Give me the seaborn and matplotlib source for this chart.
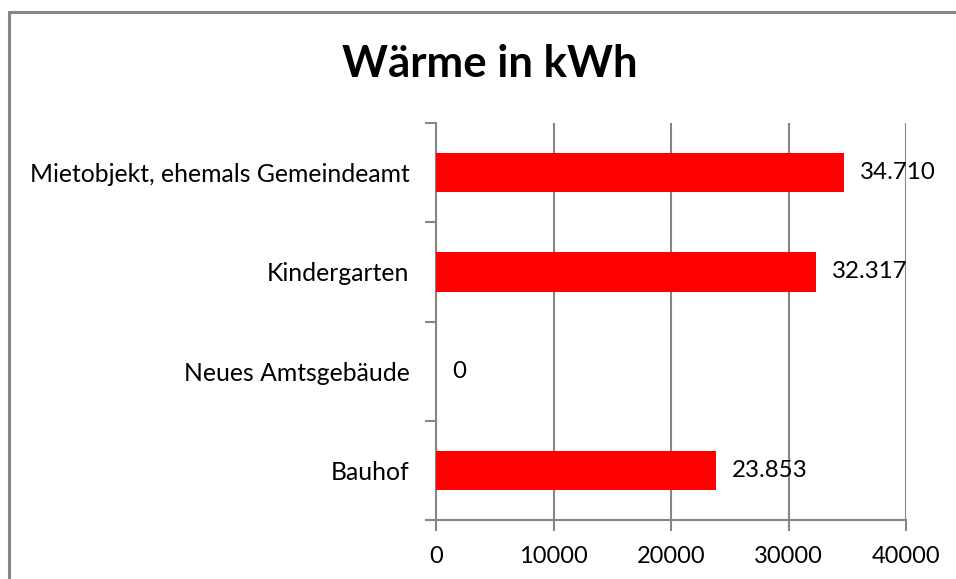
import matplotlib
matplotlib.use("Agg")
import matplotlib.pyplot as plt
from matplotlib.lines import Line2D
from matplotlib.ticker import FixedLocator
import seaborn as sns
import pandas as pd

categories = ["Mietobjekt, ehemals Gemeindeamt", "Kindergarten", "Neues Amtsgebäude", "Bauhof"]
values = [34710, 32317, 0, 23853]
value_labels = ["34.710", "32.317", "0", "23.853"]
x_ticks = [0, 10000, 20000, 30000, 40000]
title = "Wärme in kWh"

sns.set_theme(style="white")
plt.rcParams["font.family"] = ["Lato", "DejaVu Sans"]

W, H = 956, 579
fig = plt.figure(figsize=(W / 100, H / 100), dpi=100)
ax = fig.add_axes([436 / W, 1 - 520 / H, (906 - 436) / W, (520 - 123) / H])

df = pd.DataFrame({"cat": categories, "val": values})
sns.barplot(data=df, x="val", y="cat", orient="h", color="#FF0000",
            saturation=1, width=0.4, ax=ax, zorder=2, linewidth=0)

grey = "#868686"
ax.set_xlim(0, 40000)
ax.set_ylim(len(categories) - 0.5, -0.5)
ax.xaxis.set_major_locator(FixedLocator(x_ticks))
ax.set_xticklabels([str(t) for t in x_ticks], fontsize=17, color="black")
ax.grid(axis="x", color=grey, linewidth=1.5, zorder=0)
ax.grid(axis="y", visible=False)
ax.set_axisbelow(True)

ax.yaxis.set_minor_locator(FixedLocator([i - 0.5 for i in range(len(categories) + 1)]))
ax.tick_params(axis="y", which="major", length=0, pad=19, labelsize=17.8, labelcolor="black")
ax.tick_params(axis="y", which="minor", length=8, width=1.5, color=grey, direction="out", left=True)
ax.tick_params(axis="x", which="major", length=8, width=1.5, color=grey, direction="out", bottom=True, pad=11)

for s in ["top", "right"]:
    ax.spines[s].set_visible(False)
for s in ["left", "bottom"]:
    ax.spines[s].set_color(grey)
    ax.spines[s].set_linewidth(1.5)
    ax.spines[s].set_zorder(1)

ax.set_xlabel("")
ax.set_ylabel("")

for i, (v, lab) in enumerate(zip(values, value_labels)):
    ax.annotate(lab, xy=(v, i), xytext=(11.5, 0), textcoords="offset points",
                va="center", ha="left", fontsize=17.4, color="black")

fig.text(490 / W, 1 - 64 / H, title, ha="center", va="center",
         fontsize=31.5, fontweight="bold", color="black")

fig.add_artist(Line2D([8.5 / W, 8.5 / W], [0, 1 - 11.5 / H], transform=fig.transFigure,
                      color=grey, linewidth=2.2))
fig.add_artist(Line2D([8.5 / W, 1], [1 - 11.5 / H, 1 - 11.5 / H], transform=fig.transFigure,
                      color=grey, linewidth=2.2))

fig.savefig("out.png", dpi=100, facecolor="white")
